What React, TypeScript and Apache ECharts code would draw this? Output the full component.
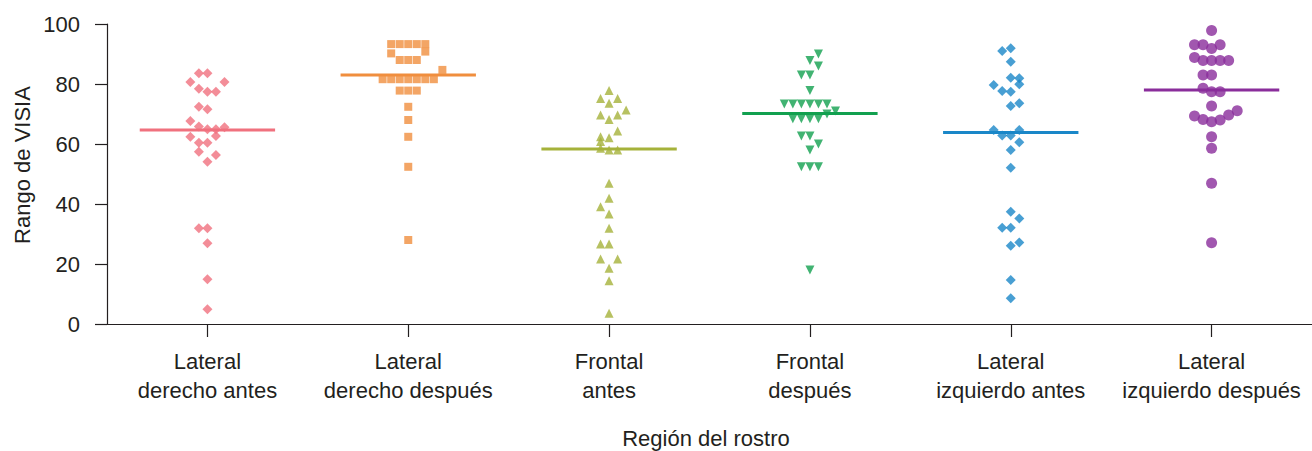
import React, { useEffect, useRef } from "react";
import * as echarts from "echarts";

const categories = [
  "Lateral\nderecho antes",
  "Lateral\nderecho después",
  "Frontal\nantes",
  "Frontal\ndespués",
  "Lateral\nizquierdo antes",
  "Lateral\nizquierdo después",
];
const yTicks = { min: 0, max: 100, interval: 20 };

const g1Values = [83.6, 83.6, 80.7, 80.7, 78.4, 77.4, 77.4, 72.4, 71.6, 67.7, 65.8, 64.9, 64.9, 65.6, 62.4, 62.7, 60.4, 60.4, 57.4, 56.3, 54.1, 31.9, 31.9, 26.9, 14.9, 4.9];
const g1Offsets = [-1, 0, -2, 2, -1, 0, 1, -1, 0, -2, -1, 0, 1, 2, -2, 1, -1, 0, -1, 1, 0, -1, 0, 0, 0, 0];
const g2Values = [93.3, 93.3, 93.3, 93.3, 93.3, 90.2, 90.8, 88, 88, 88, 84.7, 81.6, 81.6, 81.6, 81.6, 81.6, 81.6, 81.6, 77.8, 77.8, 77.8, 72.4, 68, 62.4, 52.4, 28];
const g2Offsets = [-2, -1, 0, 1, 2, -2, 2, -1, 0, 1, 4, -3, -2, -1, 0, 1, 2, 3, -1, 0, 1, 0, 0, 0, 0, 0];
const g3Values = [77.8, 75.2, 75.2, 73.6, 71.3, 69.7, 69.7, 68.2, 64.3, 62.4, 62.1, 60.8, 58.6, 58.0, 58.0, 46.9, 41.9, 39.1, 36.7, 31.9, 26.7, 26.7, 21.7, 21.7, 18.6, 14.4, 3.6];
const g3Offsets = [0, -1, 1, 0, 2, -1, 1, 0, 1, -1, 0, -1, -1, 0, 1, 0, 0, -1, 0, 0, -1, 0, -1, 1, 0, 0, 0];
const g4Values = [90, 87.8, 86, 83, 83, 77.8, 73.3, 73.3, 73.3, 73.3, 73.3, 73.3, 71, 70, 68.4, 68.4, 68.4, 68.4, 62.7, 62.7, 60, 58, 52.4, 52.4, 52.4, 18];
const g4Offsets = [1, 0, 1, -1, 0, 0, -3, -2, -1, 0, 1, 2, 3, 2, -2, -1, 0, 1, -1, 0, 1, 0, -1, 0, 1, 0];
const g5Values = [91, 91.9, 87.4, 82.1, 81.9, 79.9, 79.7, 77.7, 77.4, 72.7, 73.6, 64.7, 64.7, 62.8, 62.8, 60.6, 58, 52.1, 37.4, 35.2, 32.1, 32.1, 27.2, 26.1, 14.7, 8.6];
const g5Offsets = [-1, 0, 0, 0, 1, 1, -2, -1, 0, 0, 1, -2, 1, -1, 0, 1, 0, 0, 0, 1, -1, 0, 1, 0, 0, 0];
const g6Values = [97.8, 93.1, 93.1, 91.8, 93.1, 88.8, 87.8, 87.8, 87.8, 87.8, 83, 83, 78.6, 77.4, 77.4, 72.7, 71.1, 69.7, 69.3, 68.2, 67.4, 68, 62.4, 58.6, 46.9, 27.1];
const g6Offsets = [0, -2, -1, 0, 1, -2, -1, 0, 1, 2, -1, 0, -1, 0, 1, 0, 3, 2, -2, -1, 0, 1, 0, 0, 0, 0];
const means = [64.7, 83.0, 58.3, 70.2, 63.8, 78.0];

const groupValues = [g1Values, g2Values, g3Values, g4Values, g5Values, g6Values];
const groupOffsets = [g1Offsets, g2Offsets, g3Offsets, g4Offsets, g5Offsets, g6Offsets];
const colors = ["#F0717E", "#F08E3E", "#A5B23A", "#12A04F", "#1A87C8", "#8A2D9B"];
const symbols = ["diamond", "rect", "triangle", "triangle", "diamond", "circle"];
const symbolSizes = [10, 8, 9, 9, 10, 11];
const symbolRotates = [0, 0, 0, 180, 0, 0];

const STEP = 0.0425;
const HALF = 0.337;
const FONT = "Liberation Sans, Arial, Helvetica, sans-serif";
const INK = "#231F20";

export default function App() {
  const ref = useRef<HTMLDivElement>(null);
  useEffect(() => {
    if (!ref.current) return;
    const chart = echarts.init(ref.current, null, { renderer: "svg" });
    const series: any[] = [];
    groupValues.forEach((vals, g) => {
      series.push({
        type: "scatter",
        xAxisIndex: 1,
        symbol: symbols[g],
        symbolSize: symbolSizes[g],
        symbolRotate: symbolRotates[g],
        itemStyle: { color: colors[g] },
        data: vals.map((v, i) => [g + 1 + groupOffsets[g][i] * STEP, v]),
        z: 3,
      });
      series.push({
        type: "line",
        xAxisIndex: 1,
        showSymbol: false,
        symbol: "none",
        lineStyle: { color: colors[g], width: 3 },
        data: [
          [g + 1 - HALF, means[g]],
          [g + 1 + HALF, means[g]],
        ],
        z: 2,
      });
    });
    chart.setOption({
      animation: false,
      backgroundColor: "#ffffff",
      grid: { left: 107, right: -5, top: 24, bottom: 127 },
      xAxis: [
        {
          type: "category",
          data: categories,
          boundaryGap: true,
          axisLine: { show: true, lineStyle: { color: INK, width: 1.2 } },
          axisTick: { show: true, alignWithLabel: true, length: 13, lineStyle: { color: INK, width: 1.2 } },
          axisLabel: { color: INK, fontSize: 22, lineHeight: 29, margin: 23, fontFamily: FONT, interval: 0 },
          splitLine: { show: false },
        },
        {
          type: "value",
          min: 0.5,
          max: 6.5,
          show: false,
          splitLine: { show: false },
        },
      ],
      yAxis: {
        type: "value",
        min: yTicks.min,
        max: yTicks.max,
        interval: yTicks.interval,
        axisLine: { show: true, lineStyle: { color: INK, width: 1.2 } },
        axisTick: { show: true, length: 12, lineStyle: { color: INK, width: 1.2 } },
        axisLabel: { color: INK, fontSize: 22, margin: 27, fontFamily: FONT },
        splitLine: { show: false },
      },
      graphic: [
        {
          type: "text",
          x: 22,
          y: 165,
          rotation: Math.PI / 2,
          style: { text: "Rango de VISIA", fill: INK, font: `22px ${FONT}`, align: "center", verticalAlign: "middle" },
        },
        {
          type: "text",
          x: 706,
          y: 438,
          style: { text: "Región del rostro", fill: INK, font: `22px ${FONT}`, align: "center", verticalAlign: "middle" },
        },
      ],
      series,
    });
    return () => chart.dispose();
  }, []);
  return <div ref={ref} style={{ width: 1312, height: 451, position: "absolute", left: 0, top: 0 }} />;
}
